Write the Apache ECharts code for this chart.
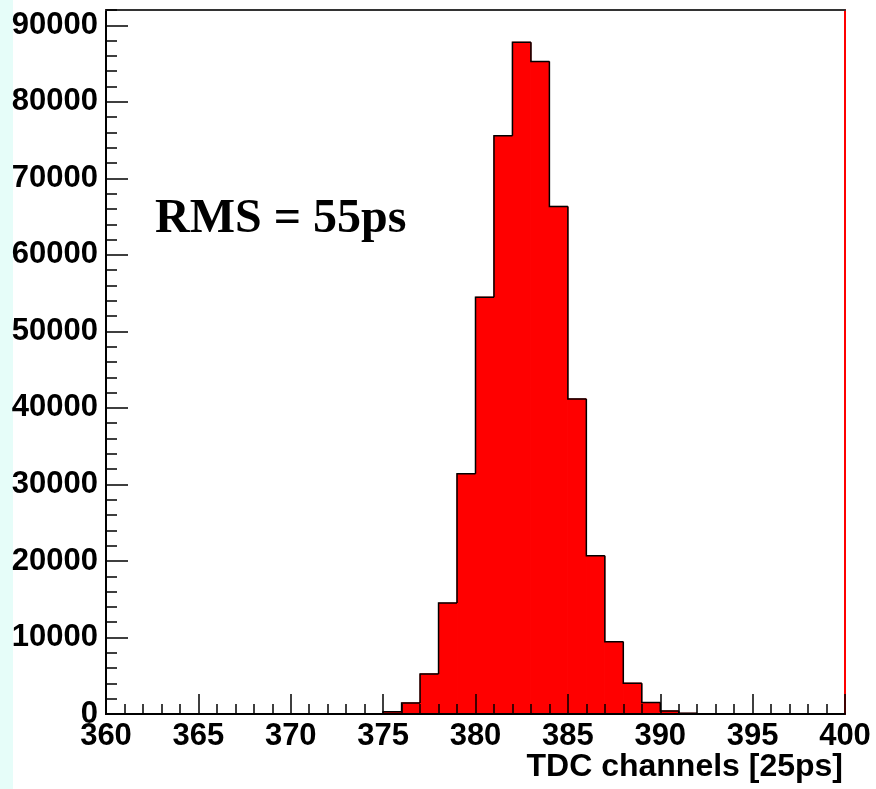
<!DOCTYPE html>
<html>
<head>
<meta charset="utf-8">
<style>
  html, body { margin: 0; padding: 0; background: #ffffff; }
  #chart { width: 876px; height: 789px; }
</style>
<script src="https://cdn.jsdelivr.net/npm/echarts@6/dist/echarts.min.js"></script>
</head>
<body>
<div id="chart"></div>
<script>
// TDC channel histogram: lower bin edges and entries per channel
const binStart = [375, 376, 377, 378, 379, 380, 381, 382, 383, 384, 385, 386, 387, 388, 389, 390, 391];
const binCounts = [300, 1450, 5240, 14490, 31400, 54470, 75580, 87780, 85260, 66330, 41180, 20680, 9430, 4030, 1490, 400, 100];
const binWidth = 1;

const xRange = [360, 400];
const yRange = [0, 92000];
const xTickStep = 5;
const yTickStep = 10000;
const yMinorStep = 2000;

const annotation = 'RMS = 55ps';
const xTitle = 'TDC channels [25ps]';

// each item: [low edge, high edge, count, count of previous bin]
const histData = binStart.map((x, i) => [x, x + binWidth, binCounts[i], i > 0 ? binCounts[i - 1] : 0]);
const lastEdge = [binStart[binStart.length - 1] + binWidth, binCounts[binCounts.length - 1]];

// major y ticks only at labelled values
const yMajorValues = [];
for (let v = yRange[0]; v <= yRange[1]; v += yTickStep) yMajorValues.push(v);

const chart = echarts.init(document.getElementById('chart'), null, { renderer: 'canvas' });

const labelFont = {
  fontFamily: '"Liberation Sans", Arial, sans-serif',
  fontWeight: 'bold',
  fontSize: 31,
  color: '#000'
};

chart.setOption({
  animation: false,
  backgroundColor: '#ffffff',
  title: {
    text: xTitle,
    right: 33,
    top: 751,
    padding: 0,
    textStyle: {
      fontFamily: '"Liberation Sans", Arial, sans-serif',
      fontWeight: 'bold',
      fontSize: 32,
      lineHeight: 32,
      color: '#000'
    }
  },
  grid: {
    left: 106, right: 31, top: 10, bottom: 75,
    outerBoundsMode: 'none',
    containLabel: false,
    show: true,
    borderColor: '#ff0000',
    borderWidth: 2,
    backgroundColor: '#ffffff'
  },
  graphic: [
    { type: 'rect', left: 0, top: 0, shape: { width: 13, height: 789 }, style: { fill: '#e6fdf9' }, z: -10 },
    {
      type: 'text', left: 155, top: 196,
      style: {
        text: annotation,
        font: 'bold 48px "Liberation Serif", "Times New Roman", serif',
        fill: '#000'
      }
    }
  ],
  xAxis: [
    {
      type: 'value',
      min: xRange[0], max: xRange[1], interval: xTickStep,
      position: 'bottom',
      axisLine: { show: true, onZero: false, lineStyle: { color: '#000', width: 2 } },
      axisTick: { show: true, inside: true, length: 20, lineStyle: { color: '#000', width: 1.5 } },
      minorTick: { show: true, splitNumber: 5, length: 10, lineStyle: { color: '#000', width: 1.5 } },
      splitLine: { show: false },
      axisLabel: Object.assign({ margin: 7, lineHeight: 31 }, labelFont),
      z: 5
    },
    {
      type: 'value',
      min: xRange[0], max: xRange[1],
      position: 'top',
      axisLine: { show: true, onZero: false, lineStyle: { color: '#333', width: 2 } },
      axisTick: { show: false },
      axisLabel: { show: false },
      splitLine: { show: false },
      z: 5
    }
  ],
  yAxis: [
    {
      // minor ticks every 2000 and the labels
      type: 'value',
      min: yRange[0], max: yRange[1], interval: yMinorStep,
      position: 'left',
      axisLine: { show: true, onZero: false, lineStyle: { color: '#000', width: 2 } },
      axisTick: { show: true, inside: true, length: 11, lineStyle: { color: '#000', width: 1.5 } },
      splitLine: { show: false },
      axisLabel: Object.assign({
        margin: 8,
        formatter: v => (v % yTickStep === 0 ? String(v) : '')
      }, labelFont),
      z: 5
    },
    {
      // major ticks every 10000
      type: 'value',
      min: yRange[0], max: yRange[1],
      position: 'left',
      axisLine: { show: false },
      axisTick: { show: true, inside: true, length: 22, customValues: yMajorValues, lineStyle: { color: '#000', width: 1.5 } },
      axisLabel: { show: false },
      splitLine: { show: false },
      z: 5
    }
  ],
  series: [
    {
      // red zero-level baseline across the full axis range
      type: 'line',
      data: [[xRange[0], 0], [xRange[1], 0]],
      symbol: 'none',
      lineStyle: { color: '#ff0000', width: 2 },
      z: 1
    },
    {
      type: 'custom',
      data: histData,
      encode: { x: [0, 1], y: 2 },
      z: 2,
      renderItem: function (params, api) {
        const x0 = api.value(0), x1 = api.value(1), c = api.value(2), prev = api.value(3);
        const p0 = api.coord([x0, 0]);
        const p1 = api.coord([x1, c]);
        const pPrev = api.coord([x0, prev]);
        const children = [
          {
            type: 'rect',
            z2: 1,
            shape: { x: p0[0], y: p1[1], width: p1[0] - p0[0], height: p0[1] - p1[1] },
            style: { fill: '#ff0000', stroke: '#ff0000', lineWidth: 1 }
          },
          {
            type: 'polyline',
            z2: 10,
            shape: { points: [[p0[0], pPrev[1]], [p0[0], p1[1]], [p1[0], p1[1]]] },
            style: { stroke: '#000', lineWidth: 1.5, fill: null }
          }
        ];
        if (params.dataIndex === histData.length - 1) {
          const pEnd = api.coord([lastEdge[0], 0]);
          children.push({
            type: 'line',
            z2: 10,
            shape: { x1: pEnd[0], y1: p1[1], x2: pEnd[0], y2: pEnd[1] },
            style: { stroke: '#000', lineWidth: 1.5 }
          });
        }
        return { type: 'group', children: children };
      }
    }
  ]
});
</script>
</body>
</html>
